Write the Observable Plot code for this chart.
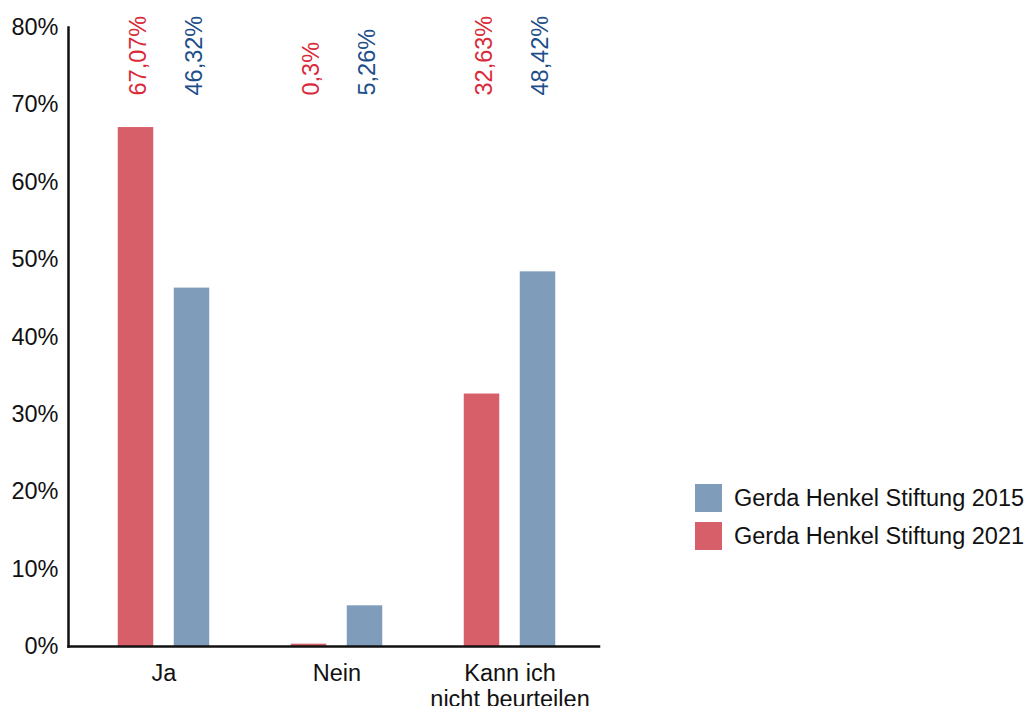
<!DOCTYPE html>
<html><head><meta charset="utf-8">
<script src="https://cdn.jsdelivr.net/npm/d3@7"></script>
<script src="https://cdn.jsdelivr.net/npm/@observablehq/plot@0.6"></script>
<style>
body{margin:0;background:#fff;font-family:"Liberation Sans",Arial,sans-serif;}
#wrap{position:relative;width:1027px;height:706px;}
#legend{position:absolute;left:695px;top:484px;font-size:23.5px;color:#111;}
.row{display:flex;align-items:center;height:28px;margin-bottom:10px;}
.sw{width:27px;height:28px;margin-right:12px;}
</style></head>
<body><div id="wrap"><div id="legend"></div></div>
<script>
const categories = ["Ja", "Nein", "Kann ich\nnicht beurteilen"];
const series = ["Gerda Henkel Stiftung 2021", "Gerda Henkel Stiftung 2015"];
const values2021 = [67.07, 0.3, 32.63];
const values2015 = [46.32, 5.26, 48.42];
const yTicks = [0, 10, 20, 30, 40, 50, 60, 70, 80];
const barColors = {"Gerda Henkel Stiftung 2021": "#d75f6a", "Gerda Henkel Stiftung 2015": "#7f9dbb"};
const textColors = {"Gerda Henkel Stiftung 2021": "#da2a3a", "Gerda Henkel Stiftung 2015": "#1d4e89"};

const d2021 = categories.map((c, i) => ({cat: c, v: values2021[i], s: series[0]}));
const d2015 = categories.map((c, i) => ({cat: c, v: values2015[i], s: series[1]}));
const fmt = v => String(v).replace(".", ",") + "%";
const FS = 23.5;

const chart = Plot.plot({
  width: 1027, height: 706,
  marginLeft: 68, marginRight: 428.5, marginTop: 27, marginBottom: 60,
  style: {fontFamily: '"Liberation Sans", Arial, sans-serif', background: "white"},
  x: {domain: categories, paddingInner: 0, paddingOuter: 0.0288, align: 0.8, axis: null, label: null},
  y: {domain: [0, 80], axis: null, label: null},
  marks: [
    Plot.barY(d2021, {x: "cat", y: "v", fill: barColors[series[0]], insetLeft: 40.75, insetRight: 96.75}),
    Plot.barY(d2015, {x: "cat", y: "v", fill: barColors[series[1]], insetLeft: 96.75, insetRight: 40.75}),
    Plot.text(d2021, {x: "cat", text: d => fmt(d.v), rotate: -90, textAnchor: "start", frameAnchor: "top", dy: 68, dx: -35, fill: textColors[series[0]], fontSize: FS}),
    Plot.text(d2015, {x: "cat", text: d => fmt(d.v), rotate: -90, textAnchor: "start", frameAnchor: "top", dy: 68, dx: 21, fill: textColors[series[1]], fontSize: FS}),
    Plot.axisY({ticks: yTicks, tickFormat: d => d + "%", tickSize: 0, tickPadding: 10, fontSize: FS, fill: "#111", label: null}),
    Plot.axisX({tickSize: 0, tickPadding: 16, fontSize: FS, lineHeight: 1.1, fill: "#111", label: null}),
    Plot.frame({anchor: "left", stroke: "#111", strokeWidth: 2.5}),
    Plot.frame({anchor: "bottom", stroke: "#111", strokeWidth: 2.5})
  ]
});
document.getElementById("wrap").prepend(chart);

const legend = document.getElementById("legend");
[series[1], series[0]].forEach(s => {
  const row = document.createElement("div");
  row.className = "row";
  row.innerHTML = `<div class="sw" style="background:${barColors[s]}"></div><span>${s}</span>`;
  legend.appendChild(row);
});
</script>
</body></html>
